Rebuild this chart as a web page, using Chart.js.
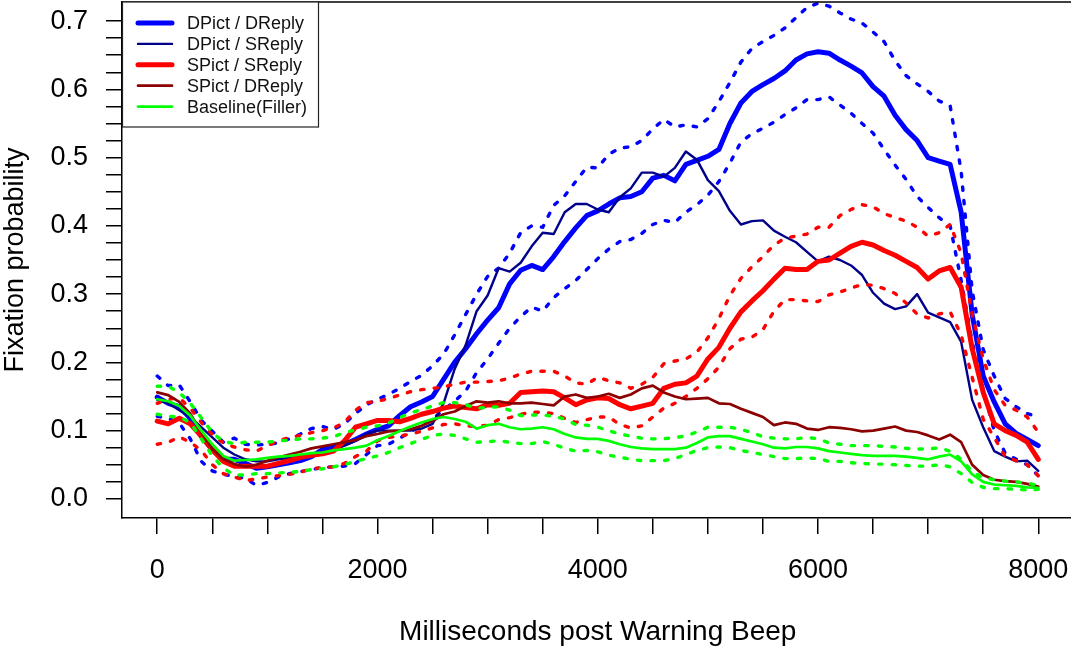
<!DOCTYPE html>
<html><head><meta charset="utf-8">
<script src="https://cdn.jsdelivr.net/npm/chart.js@4/dist/chart.umd.min.js"></script>
<style>html,body{margin:0;padding:0;background:#fff;overflow:hidden}#wrap{width:1080px;height:649px}</style>
</head><body><div id="wrap"><canvas id="c" width="1080" height="649"></canvas></div>
<script>
const ms = [0,100,200,300,400,500,600,700,800,900,1000,1100,1200,1300,1400,1500,1600,1700,1800,1900,2000,2100,2200,2300,2400,2500,2600,2700,2800,2900,3000,3100,3200,3300,3400,3500,3600,3700,3800,3900,4000,4100,4200,4300,4400,4500,4600,4700,4800,4900,5000,5100,5200,5300,5400,5500,5600,5700,5800,5900,6000,6100,6200,6300,6400,6500,6600,6700,6800,6900,7000,7100,7200,7300,7400,7500,7600,7700,7800,7900,8000];

const dpictDreply = [0.149,0.14,0.135,0.118,0.092,0.072,0.058,0.058,0.052,0.045,
0.047,0.05,0.053,0.056,0.062,0.072,0.076,0.08,0.087,0.095,
0.102,0.107,0.122,0.135,0.142,0.15,0.175,0.2,0.22,0.242,
0.262,0.28,0.315,0.335,0.342,0.336,0.355,0.377,0.397,0.415,
0.422,0.432,0.441,0.443,0.45,0.47,0.474,0.466,0.49,0.496,
0.502,0.512,0.55,0.58,0.597,0.607,0.616,0.627,0.643,0.652,
0.655,0.653,0.643,0.634,0.624,0.604,0.59,0.562,0.541,0.525,
0.5,0.495,0.49,0.42,0.27,0.18,0.142,0.11,0.096,0.087,
0.078];
const dpictDreplyUp = [0.18,0.166,0.167,0.142,0.115,0.099,0.083,0.089,0.08,0.079,
0.08,0.082,0.088,0.095,0.103,0.106,0.102,0.11,0.125,0.138,
0.146,0.153,0.162,0.172,0.181,0.195,0.212,0.24,0.27,0.3,
0.326,0.338,0.36,0.39,0.4,0.398,0.43,0.444,0.465,0.486,
0.485,0.505,0.514,0.516,0.525,0.542,0.556,0.545,0.548,0.545,
0.557,0.582,0.61,0.64,0.66,0.67,0.679,0.69,0.705,0.72,
0.726,0.722,0.712,0.703,0.697,0.684,0.67,0.642,0.62,0.608,
0.597,0.583,0.576,0.48,0.305,0.219,0.18,0.147,0.135,0.125,
0.12];
const dpictDreplyLo = [0.121,0.118,0.111,0.088,0.055,0.041,0.036,0.033,0.03,0.02,
0.024,0.032,0.037,0.04,0.043,0.046,0.047,0.048,0.052,0.065,
0.078,0.08,0.089,0.098,0.108,0.117,0.13,0.143,0.158,0.185,
0.205,0.228,0.25,0.267,0.281,0.275,0.295,0.308,0.32,0.336,
0.352,0.366,0.377,0.38,0.389,0.402,0.408,0.405,0.42,0.431,
0.445,0.465,0.492,0.523,0.535,0.543,0.552,0.563,0.573,0.585,
0.585,0.589,0.577,0.565,0.55,0.536,0.512,0.489,0.468,0.443,
0.427,0.412,0.4,0.32,0.23,0.16,0.1,0.067,0.058,0.05,
0.034];
const dpictSreply = [0.145,0.14,0.13,0.12,0.105,0.09,0.075,0.065,0.058,0.055,
0.055,0.058,0.06,0.062,0.065,0.068,0.072,0.078,0.085,0.095,
0.1,0.1,0.1,0.1,0.103,0.11,0.14,0.19,0.225,0.275,
0.298,0.338,0.333,0.346,0.37,0.39,0.388,0.42,0.432,0.432,
0.424,0.42,0.442,0.455,0.478,0.478,0.472,0.485,0.509,0.497,
0.467,0.451,0.422,0.402,0.407,0.408,0.393,0.384,0.376,0.362,
0.348,0.355,0.35,0.342,0.328,0.302,0.286,0.278,0.282,0.3,
0.273,0.266,0.259,0.23,0.145,0.105,0.07,0.062,0.055,0.056,
0.041];
const spictSreply = [0.114,0.11,0.118,0.11,0.092,0.072,0.055,0.048,0.048,0.048,
0.048,0.052,0.056,0.061,0.064,0.066,0.07,0.085,0.105,0.11,
0.115,0.115,0.113,0.118,0.124,0.128,0.133,0.136,0.134,0.132,
0.138,0.137,0.14,0.156,0.157,0.158,0.157,0.148,0.138,0.145,
0.148,0.147,0.138,0.132,0.136,0.14,0.162,0.168,0.17,0.18,
0.205,0.222,0.25,0.274,0.29,0.305,0.322,0.338,0.336,0.336,
0.348,0.35,0.36,0.37,0.376,0.372,0.364,0.357,0.348,0.339,
0.322,0.334,0.339,0.31,0.22,0.156,0.11,0.1,0.093,0.083,
0.058];
const spictSreplyUp = [0.14,0.146,0.148,0.133,0.112,0.094,0.082,0.076,0.072,0.07,
0.078,0.085,0.09,0.093,0.097,0.1,0.104,0.112,0.13,0.141,
0.143,0.147,0.152,0.157,0.16,0.162,0.164,0.168,0.171,0.171,
0.172,0.173,0.177,0.183,0.187,0.187,0.187,0.18,0.17,0.168,
0.178,0.173,0.17,0.162,0.168,0.178,0.198,0.202,0.205,0.215,
0.236,0.264,0.298,0.323,0.34,0.355,0.372,0.382,0.385,0.388,
0.398,0.398,0.415,0.424,0.431,0.428,0.418,0.412,0.407,0.398,
0.385,0.39,0.402,0.36,0.27,0.205,0.16,0.137,0.13,0.12,
0.098];
const spictSreplyLo = [0.08,0.083,0.091,0.083,0.071,0.05,0.037,0.032,0.027,0.029,
0.032,0.034,0.036,0.039,0.044,0.046,0.047,0.052,0.062,0.07,
0.085,0.09,0.092,0.095,0.099,0.104,0.109,0.11,0.107,0.106,
0.108,0.116,0.119,0.124,0.127,0.127,0.125,0.118,0.112,0.116,
0.12,0.12,0.109,0.104,0.107,0.12,0.133,0.14,0.15,0.162,
0.176,0.193,0.22,0.234,0.237,0.248,0.275,0.292,0.292,0.29,
0.289,0.299,0.303,0.309,0.314,0.313,0.308,0.301,0.287,0.271,
0.265,0.271,0.274,0.24,0.178,0.117,0.09,0.062,0.056,0.05,
0.034];
const spictDreply = [0.156,0.152,0.142,0.125,0.098,0.073,0.058,0.051,0.047,0.05,
0.056,0.061,0.065,0.069,0.074,0.077,0.08,0.083,0.086,0.092,
0.095,0.099,0.1,0.102,0.107,0.114,0.124,0.128,0.136,0.143,
0.141,0.143,0.14,0.14,0.141,0.139,0.137,0.15,0.153,0.148,
0.15,0.154,0.148,0.153,0.162,0.166,0.156,0.15,0.146,0.147,
0.148,0.14,0.139,0.132,0.126,0.12,0.108,0.112,0.11,0.103,
0.101,0.105,0.104,0.102,0.099,0.1,0.103,0.106,0.1,0.098,
0.093,0.087,0.094,0.083,0.05,0.035,0.028,0.026,0.025,0.022,
0.018];
const baseline = [0.146,0.143,0.136,0.122,0.1,0.08,0.063,0.056,0.057,0.058,
0.06,0.062,0.063,0.065,0.067,0.068,0.071,0.073,0.075,0.078,
0.086,0.092,0.099,0.106,0.112,0.117,0.12,0.117,0.113,0.103,
0.108,0.11,0.105,0.102,0.103,0.105,0.102,0.095,0.09,0.088,
0.088,0.085,0.08,0.076,0.074,0.073,0.073,0.073,0.075,0.082,
0.09,0.092,0.092,0.088,0.084,0.08,0.075,0.074,0.076,0.076,
0.074,0.07,0.068,0.066,0.064,0.063,0.063,0.063,0.062,0.06,
0.058,0.062,0.065,0.055,0.036,0.025,0.021,0.02,0.019,0.017,
0.016];
const baselineUp = [0.165,0.165,0.156,0.14,0.119,0.097,0.084,0.081,0.083,0.083,
0.083,0.085,0.086,0.088,0.088,0.089,0.091,0.097,0.101,0.105,
0.107,0.111,0.119,0.126,0.131,0.136,0.141,0.141,0.138,0.133,
0.134,0.135,0.13,0.122,0.123,0.123,0.121,0.117,0.109,0.108,
0.105,0.1,0.095,0.092,0.089,0.088,0.088,0.09,0.092,0.098,
0.105,0.105,0.105,0.102,0.097,0.091,0.089,0.088,0.088,0.09,
0.088,0.082,0.08,0.078,0.078,0.078,0.077,0.076,0.074,0.073,
0.073,0.075,0.07,0.058,0.04,0.031,0.028,0.026,0.025,0.023,
0.02];
const baselineLo = [0.124,0.121,0.12,0.112,0.088,0.063,0.045,0.035,0.035,0.037,
0.037,0.038,0.039,0.04,0.043,0.044,0.047,0.05,0.055,0.059,
0.063,0.068,0.075,0.081,0.087,0.093,0.095,0.093,0.088,0.083,
0.084,0.085,0.083,0.081,0.081,0.084,0.08,0.074,0.07,0.071,
0.069,0.064,0.061,0.058,0.056,0.056,0.056,0.059,0.065,0.071,
0.075,0.076,0.075,0.071,0.068,0.065,0.062,0.059,0.059,0.06,
0.059,0.055,0.055,0.053,0.052,0.051,0.051,0.05,0.049,0.048,
0.048,0.05,0.047,0.037,0.024,0.017,0.015,0.015,0.014,0.013,
0.014];

const xTickVals = [0,500,1000,1500,2000,2500,3000,3500,4000,4500,5000,5500,6000,6500,7000,7500,8000];
const xTickLabels = ['0','','','','2000','','','','4000','','','','6000','','','','8000'];
const yTickVals = [0,0.025,0.05,0.075,0.1,0.125,0.15,0.175,0.2,0.225,0.25,0.275,0.3,0.325,0.35,0.375,0.4,0.425,0.45,0.475,0.5,0.525,0.55,0.575,0.6,0.625,0.65,0.675,0.7];
const yTickLabels = ['0.0','','','','0.1','','','','0.2','','','','0.3','','','','0.4','','','','0.5','','','','0.6','','','','0.7'];

const FONT = "'Liberation Sans', Arial, Helvetica, sans-serif";
const pts = arr => ms.map((x, i) => ({x: x, y: arr[i]}));
const solid = (label, arr, color, w, order) => ({label, data: pts(arr), borderColor: color, borderWidth: w, pointRadius: 0, tension: 0, fill: false, order, legend: true, borderCapStyle: 'round', borderJoinStyle: 'round'});
const dotted = (arr, color, order) => ({label: '', data: pts(arr), borderColor: color, borderWidth: 3.4, borderDash: [3.4, 10.2], borderCapStyle: 'round', pointRadius: 0, tension: 0, fill: false, order, legend: false});

const datasets = [
  solid('DPict / DReply', dpictDreply, '#0000ff', 5, 12),
  dotted(dpictDreplyUp, '#0000ff', 11),
  dotted(dpictDreplyLo, '#0000ff', 10),
  solid('DPict / SReply', dpictSreply, '#00008b', 2.4, 9),
  solid('SPict / SReply', spictSreply, '#ff0000', 5, 8),
  dotted(spictSreplyUp, '#ff0000', 7),
  dotted(spictSreplyLo, '#ff0000', 6),
  solid('SPict / DReply', spictDreply, '#8b0000', 2.7, 5),
  solid('Baseline(Filler)', baseline, '#00ff00', 2.7, 4),
  dotted(baselineUp, '#00ff00', 3),
  dotted(baselineLo, '#00ff00', 2)
];

const frameAndLegend = {
  id: 'frameAndLegend',
  afterDatasetsDraw(chart) {
    const ctx = chart.ctx, a = chart.chartArea;
    ctx.save();
    ctx.strokeStyle = '#000'; ctx.lineWidth = 1.5;
    ctx.beginPath(); ctx.moveTo(a.left, a.top); ctx.lineTo(a.right, a.top); ctx.stroke();
    const bx = a.left, by = a.top, bw = 196, bh = 125;
    ctx.fillStyle = '#fff'; ctx.fillRect(bx, by, bw, bh);
    ctx.lineWidth = 1.2; ctx.strokeStyle = '#222';
    ctx.strokeRect(bx + 0.5, by, bw, bh);
    const items = chart.data.datasets.filter(d => d.legend);
    ctx.font = '18px ' + FONT; ctx.textBaseline = 'middle'; ctx.textAlign = 'left';
    items.forEach((d, i) => {
      const y = by + 21 + i * 20.9;
      ctx.strokeStyle = d.borderColor; ctx.lineWidth = d.borderWidth; ctx.lineCap = 'round';
      ctx.beginPath(); ctx.moveTo(bx + 16, y); ctx.lineTo(bx + 50, y); ctx.stroke();
      ctx.fillStyle = '#111';
      ctx.fillText(d.label, bx + 65, y + 1.5);
    });
    ctx.restore();
  }
};

new Chart(document.getElementById('c'), {
  type: 'line',
  data: {datasets},
  plugins: [frameAndLegend],
  options: {
    responsive: false, devicePixelRatio: 1, animation: false,
    layout: {padding: {top: 2, right: 6.5, left: 0, bottom: 0}},
    plugins: {legend: {display: false}, tooltip: {enabled: false}},
    scales: {
      x: {
        type: 'linear', min: -320, max: 8320,
        afterBuildTicks: s => { s.ticks = xTickVals.map(v => ({value: v})); },
        afterFit: s => { s.height = 131; s.paddingLeft = 0; s.paddingRight = 0; s.paddingTop = 0; s.paddingBottom = 0; },
        border: {display: true, color: '#000', width: 1.5},
        grid: {drawOnChartArea: false, drawTicks: true, tickLength: 16, color: '#000', lineWidth: 1.5},
        ticks: {autoSkip: false, maxRotation: 0, padding: 20, color: '#000', font: {family: FONT, size: 27}, callback: (v, i) => xTickLabels[i]},
        title: {display: true, text: 'Milliseconds post Warning Beep', color: '#000', font: {family: FONT, size: 28, lineHeight: 1}, padding: {top: 0, bottom: 2.5}}
      },
      y: {
        type: 'linear', min: -0.028, max: 0.728,
        afterBuildTicks: s => { s.ticks = yTickVals.map(v => ({value: v})); },
        afterFit: s => { s.width = 122; s.paddingLeft = 0; s.paddingRight = 0; s.paddingTop = 0; s.paddingBottom = 0; },
        border: {display: true, color: '#000', width: 1.5},
        grid: {drawOnChartArea: false, drawTicks: true, tickLength: 16, color: '#000', lineWidth: 1.5},
        ticks: {autoSkip: false, padding: 18, color: '#000', font: {family: FONT, size: 27}, callback: (v, i) => yTickLabels[i]},
        title: {display: true, text: 'Fixation probability', color: '#000', font: {family: FONT, size: 27, lineHeight: 1}, padding: {top: 2.5, bottom: 0}}
      }
    }
  }
});
</script></body></html>
